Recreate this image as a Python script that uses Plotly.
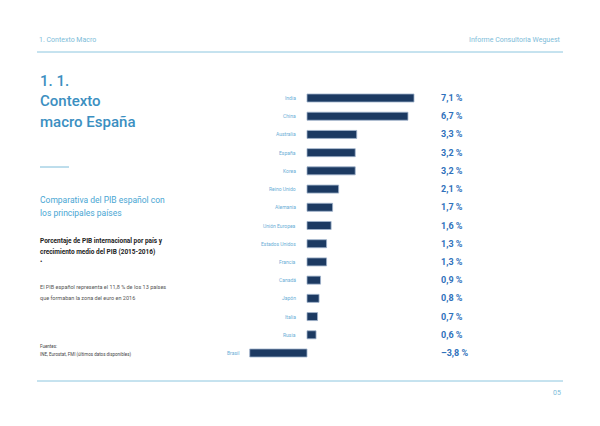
import plotly.graph_objects as go

countries = ["India", "China", "Australia", "España", "Korea", "Reino Unido", "Alemania",
             "Unión Europea", "Estados Unidos", "Francia", "Canadá", "Japón", "Italia", "Rusia", "Brasil"]
growth = [7.1, 6.7, 3.3, 3.2, 3.2, 2.1, 1.7, 1.6, 1.3, 1.3, 0.9, 0.8, 0.7, 0.6, -3.8]
value_labels = ["7,1 %", "6,7 %", "3,3 %", "3,2 %", "3,2 %", "2,1 %", "1,7 %", "1,6 %",
                "1,3 %", "1,3 %", "0,9 %", "0,8 %", "0,7 %", "0,6 %", "–3,8 %"]

OFF = 8  # page body margin
W, H = 600 - OFF, 426 - OFF
def px(x): return (x - OFF) / W
def py(y): return 1 - (y - OFF) / H

LIGHT = "#7dbcd9"
TITLE = "#3b8fc1"
SUB = "#4aa6d3"
NAVY = "#1c3a62"
VAL = "#2f71bb"
FONT = "Roboto"

fig = go.Figure()
fig.add_trace(go.Bar(
    x=growth, y=countries, orientation="h",
    marker=dict(color=NAVY, line=dict(color="#9fb3cc", width=0.8)),
    width=0.44, hoverinfo="skip"))

scale = 107 / 7.1
x0, x1 = 240, 420
r0 = -(307 - x0) / scale
r1 = (x1 - 307) / scale
y_top, y_bot = 98 - 18.21 / 2, 353 + 18.21 / 2

annotations = []
for c, v, lab in zip(countries, growth, value_labels):
    annotations.append(dict(x=min(v, 0), y=c, xref="x", yref="y", text=c, showarrow=False,
                            xanchor="right", xshift=-9,
                            font=dict(family=FONT, size=5, color="#6aaed6")))
    annotations.append(dict(x=px(439), y=c, xref="paper", yref="y", text=lab, showarrow=False,
                            xanchor="left", font=dict(family=FONT, size=9, color=VAL, weight=700)))

def txt(x, y, text, size, color, anchor="left", weight=400, family=FONT):
    annotations.append(dict(x=px(x), y=py(y), xref="paper", yref="paper", text=text, showarrow=False,
                            xanchor=anchor, yanchor="middle",
                            font=dict(family=family, size=size, color=color, weight=weight)))

txt(37, 40, "1. Contexto Macro", 7, LIGHT)
txt(563, 40, "Informe Consultoria Weguest", 7, LIGHT, anchor="right")
txt(38, 81, "1. 1.", 15, TITLE, weight=500)
txt(38, 101, "Contexto", 15, TITLE, weight=500)
txt(38, 122, "macro España", 15, TITLE, weight=500)
txt(38, 200, "Comparativa del PIB español con", 8.5, SUB)
txt(38, 213, "los principales países", 8.5, SUB)
txt(38, 241, "Porcentaje de PIB internacional por país y", 6.5, "#222222", weight=700)
txt(38, 252, "crecimiento medio del PIB (2015-2016)", 6.5, "#222222", weight=700)
txt(38, 262, "•", 7, "#222222")
txt(38, 287, "El PIB español representa el 11,8 % de los 13 países", 5.5, "#555555")
txt(38, 298, "que formaban la zona del euro en 2016", 5.5, "#555555")
txt(38, 346, "Fuentes:", 4.5, "#444444")
txt(38, 354, "INE, Eurostat, FMI (últimos datos disponibles)", 4.5, "#444444")
txt(563, 393, "05", 7, LIGHT, anchor="right")

shapes = [
    dict(type="line", xref="paper", yref="paper", x0=px(37), x1=px(563), y0=py(52), y1=py(52),
         line=dict(color="#8cc6df", width=1)),
    dict(type="line", xref="paper", yref="paper", x0=px(37), x1=px(563), y0=py(381), y1=py(381),
         line=dict(color="#8cc6df", width=1)),
    dict(type="line", xref="paper", yref="paper", x0=px(40), x1=px(69), y0=py(167), y1=py(167),
         line=dict(color="#7dbcd9", width=1)),
]

fig.update_layout(
    width=W, height=H, margin=dict(l=0, r=0, t=0, b=0),
    paper_bgcolor="white", plot_bgcolor="white", showlegend=False,
    xaxis=dict(domain=[px(x0), px(x1)], range=[r0, r1], visible=False, fixedrange=True),
    yaxis=dict(domain=[py(y_bot), py(y_top)], range=[14.5, -0.5], visible=False,
               categoryorder="array", categoryarray=countries, fixedrange=True),
    annotations=annotations, shapes=shapes,
)
fig.write_html("out.html")
